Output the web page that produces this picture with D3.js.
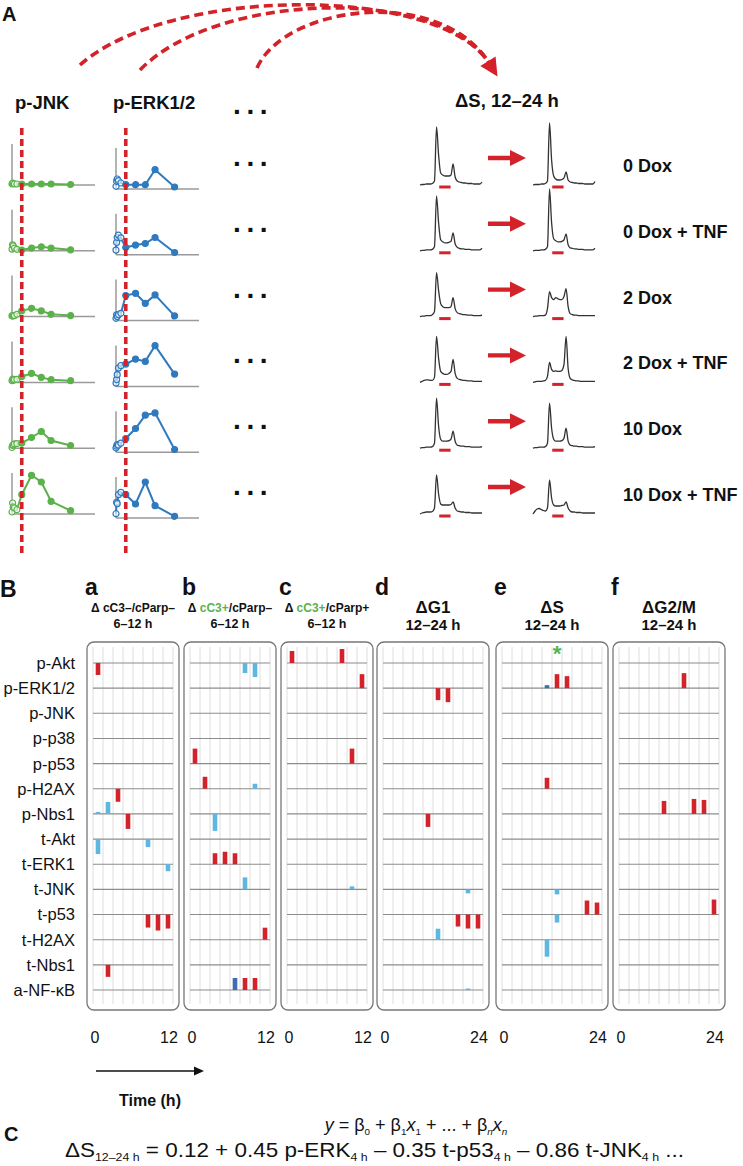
<!DOCTYPE html>
<html><head><meta charset="utf-8">
<script src="https://cdn.jsdelivr.net/npm/d3@7"></script>
<style>
body{margin:0;background:#fff}
svg{display:block}
text{font-family:"Liberation Sans",Arial,Helvetica,sans-serif;fill:#111}
.narrow{font-family:"Liberation Sans Narrow","Arial Narrow","Liberation Sans",Arial,sans-serif}
</style></head>
<body><svg id="fig" width="743" height="1166"></svg>
<script>
// ================= DATA =================
const conditions = ["0 Dox","0 Dox + TNF","2 Dox","2 Dox + TNF","10 Dox","10 Dox + TNF"];
const times = [0,0.25,0.5,1,2,4,8,12,16,24];           // h
const modelTime = 4;                                     // h (red dashed line)
const signalNames = ["p-JNK","p-ERK1/2"];
// signal level (a.u.) per condition, per time point
const pJNK = [
  [1,2,1.5,1,1,1,1,1,1,0.5],
  [1.7,6,5,2.7,1.5,0.7,2.7,4,2.7,1],
  [0.7,0.7,1,1,2.3,5.7,8.3,5.7,2.3,1],
  [1.7,3.3,2.3,2.7,3,5.7,9,5,2.7,1.7],
  [0.7,2.7,3.3,4.3,4.5,5,10.7,16.7,7.7,2.7],
  [2,11,7,6,4.3,19.3,38.7,32,12.7,3.3]
];
const pERK = [
  [2.7,7.7,10,8.3,6,4.3,4.3,4.3,19.3,2],
  [4.7,12.3,17.3,19.7,17,7.3,9.7,11.3,17.3,2.3],
  [2.3,5.7,4,6,7.3,25,27.3,17.3,25.7,4.7],
  [3.3,6.7,11.7,18.3,20.7,22.3,27.3,25,40.7,12.3],
  [4.3,6,7.7,7,9,13.7,23.7,37,39.3,2.7],
  [4.3,15.7,14.3,23.3,25.7,23.3,14,36,12.3,1.7]
];
// DNA-content histograms (counts per bin), before (12 h) and after (24 h)
const histBefore = [
  [0,0.5,0.5,1,1,1,1.5,4,58,30,12,10,9,9,9,10,21,8,4,3,2.5,2,2,1.5,1.5,1.5,1,1,1,1,3],
  [0,0.5,0.5,1,1,1,1.5,4,55,28,11,9,8,8,8.5,9.5,18,7,3.5,2.5,2,2,1.5,1.5,1.5,1,1,1,1,1,2.5],
  [0,0.5,0.5,1,1,1,2,5,44,26,13,10,9,9,9,10,19,8,4,3,2.5,2,2,1.5,1.5,1.5,1,1,1,1,1.5],
  [0,1,2,2.5,2.5,2,2,5,46,24,11,9,8,8,9,11,23,9,4,3,2.5,2,2,1.5,1.5,1.5,1,1,1,1,1],
  [0,0.5,0.5,1,1,1,1.5,5,50,22,9,7,7,7,7.5,9,17,7,3,2.5,2,2,1.5,1.5,1.5,1,1,1,1,1,1.5],
  [0,1,1.5,2,2,2,2.5,6,39,20,10,9,9,9,9,9.5,12,6,3,2.5,2,2,1.5,1.5,1.5,1,1,1,1,1,1]
];
const histAfter = [
  [0,0.5,0.5,0.5,1,1,1.5,4,62,25,9,6,5,5,5.5,7,13,5,3,2.5,2,2,1.5,1.5,1.5,1,1,1,1,1,3.5],
  [0,0.5,0.5,0.5,1,1,1.5,4,62,28,12,10,9,9,9.5,11,17,6,3,2.5,2,2,1.5,1.5,1.5,1,1,1,1,1,2.5],
  [0,0.5,0.5,1,1,1,1.5,8,25,19,17,19,18,17,17,20,28,10,3,2,1.5,1.5,1,1,1,1,1,1,1,1,1],
  [0,0.5,1,1,1,1.5,2,6,20,13,11,11.5,11,11,12,18,46,14,4,2.5,2,1.5,1.5,1,1,1,1,1,1,1,1],
  [0,0.5,0.5,1,1,1,1.5,5,45,20,9,7,7,7,7.5,10,20,7,3,2.5,2,2,1.5,1.5,1.5,1,1,1,1,1,1.5],
  [0,3,5,5.5,4.5,3.5,3,6,34,16,9,8,8,8,8.5,9,12,6,3,2,2,1.5,1.5,1.5,1,1,1,1,1,1,1]
];
const sGate = [9.3,14.8];   // S-phase gate (bins)

// Panel B
const rowSignals = ["p-Akt","p-ERK1/2","p-JNK","p-p38","p-p53","p-H2AX","p-Nbs1",
                    "t-Akt","t-ERK1","t-JNK","t-p53","t-H2AX","t-Nbs1","a-NF-κB"];
const panelLetters = ["a","b","c","d","e","f"];
const panelSlots = [8,8,8,10,10,10];
const panelEndLabels = ["12","12","12","24","24","24"];
const panelTitles = [
  [["Δ cC3–/cParp–",null]],
  [["Δ ",null],["cC3+","g"],["/cParp–",null]],
  [["Δ ",null],["cC3+","g"],["/cParp+",null]],
  [["ΔG1",null]],
  [["ΔS",null]],
  [["ΔG2/M",null]]
];
const panelSubtitles = ["6–12 h","6–12 h","6–12 h","12–24 h","12–24 h","12–24 h"];
// regression coefficients: [signal, time slot, value, colour class]
const coefA = [["p-Akt",0,-1.2,"r"],["p-H2AX",2,-1.3,"r"],["p-Nbs1",0,0.2,"b"],["p-Nbs1",1,1.2,"b"],
  ["p-Nbs1",3,-1.5,"r"],["t-Akt",0,-1.5,"b"],["t-Akt",5,-0.8,"b"],["t-ERK1",7,-0.7,"b"],
  ["t-p53",5,-1.3,"r"],["t-p53",6,-1.6,"r"],["t-p53",7,-1.4,"r"],["t-Nbs1",1,-1.2,"r"]];
const coefB = [["p-Akt",5,-1.0,"b"],["p-Akt",6,-1.4,"b"],["p-p53",0,1.5,"r"],["p-H2AX",1,1.2,"r"],
  ["p-H2AX",6,0.5,"b"],["p-Nbs1",2,-1.7,"b"],["t-ERK1",2,1.1,"r"],["t-ERK1",3,1.25,"r"],
  ["t-ERK1",4,1.1,"r"],["t-JNK",5,1.2,"b"],["t-H2AX",7,1.2,"r"],["a-NF-κB",4,1.2,"d"],
  ["a-NF-κB",5,1.2,"r"],["a-NF-κB",6,1.2,"r"]];
const coefC = [["p-Akt",0,1.2,"r"],["p-Akt",5,1.4,"r"],["p-ERK1/2",7,1.4,"r"],["p-p53",6,1.5,"r"],
  ["t-JNK",6,0.3,"b"]];
const coefD = [["p-ERK1/2",5,-1.2,"r"],["p-ERK1/2",6,-1.4,"r"],["p-Nbs1",4,-1.3,"r"],["t-JNK",8,-0.4,"b"],
  ["t-p53",7,-1.2,"r"],["t-p53",8,-1.4,"r"],["t-p53",9,-1.4,"r"],["t-H2AX",5,1.1,"b"],["a-NF-κB",8,0.15,"b"]];
const coefE = [["p-ERK1/2",4,0.3,"d"],["p-ERK1/2",5,1.4,"r"],["p-ERK1/2",6,1.2,"r"],["p-H2AX",4,1.1,"r"],
  ["t-JNK",5,-0.5,"b"],["t-p53",5,-0.8,"b"],["t-p53",8,1.4,"r"],["t-p53",9,1.2,"r"],["t-H2AX",4,-1.7,"b"]];
const coefF = [["p-ERK1/2",6,1.5,"r"],["p-Nbs1",4,1.3,"r"],["p-Nbs1",7,1.5,"r"],["p-Nbs1",8,1.4,"r"],
  ["t-p53",9,1.5,"r"]];
const significant = [["e","p-Akt",5]];   // green asterisk
// Panel C equation
const intercept = 0.12;
const eqTerms = ["p-ERK","t-p53","t-JNK"];
const eqCoefs = [0.45,-0.35,-0.86];

// ================= STYLE / LAYOUT =================
const RED="#d3222a", GREEN="#5cb24a", BLUE="#2f7abf", LBLUE="#5db7e1", DBLUE="#3c6db4";
const barColor = {r:RED,b:LBLUE,d:DBLUE};
const svg = d3.select("#fig");

function bold(sel){return sel.attr("font-weight","bold");}

// ---------- Panel A ----------
bold(svg.append("text").attr("x",2).attr("y",21).attr("font-size",20).text("A"));

// dashed arcs to arrow
const arcStarts = [[80,65,170,-15],[140,70,215,-8],[257,68,285,5]];
const arcEnd = [489,63], c2 = [440,-15];
arcStarts.forEach(a=>{
  const p=d3.path(); p.moveTo(a[0],a[1]); p.bezierCurveTo(a[2],a[3],c2[0],c2[1],arcEnd[0],arcEnd[1]);
  svg.append("path").attr("d",p.toString()).attr("fill","none").attr("stroke",RED)
    .attr("stroke-width",3.6).attr("stroke-dasharray","9,5");
});
{ // arrowhead
  const dx=arcEnd[0]-c2[0], dy=arcEnd[1]-c2[1], L=Math.hypot(dx,dy), ux=dx/L, uy=dy/L;
  const tip=[arcEnd[0]+ux*16, arcEnd[1]+uy*16], bx=arcEnd[0]-ux*2, by=arcEnd[1]-uy*2;
  svg.append("path").attr("d",`M${tip}L${bx-uy*9},${by+ux*9}L${bx+uy*9},${by-ux*9}Z`).attr("fill",RED);
}

bold(svg.append("text").attr("x",15).attr("y",109).attr("font-size",18.5).text(signalNames[0]));
bold(svg.append("text").attr("x",113).attr("y",109).attr("font-size",18.5).text(signalNames[1]));
bold(svg.append("text").attr("x",455).attr("y",107).attr("font-size",18.5).text("ΔS, 12–24 h"));

const rowBase = d3.scaleLinear().domain([0,5]).range([185,514]);
const xT = d3.scaleLinear().domain([0,34]).range([0,83]);
const yS = d3.scaleLinear().domain([0,41]).range([0,-41]);
const chartDefs = [{data:pJNK,x0:12,dy:0,color:GREEN},{data:pERK,x0:116,dy:4,color:BLUE}];

conditions.forEach((cond,i)=>{
  const yb = rowBase(i);
  chartDefs.forEach(cd=>{
    const g = svg.append("g").attr("transform",`translate(${cd.x0},${yb+cd.dy})`);
    g.append("line").attr("x1",0).attr("x2",0).attr("y1",0).attr("y2",yS(41)).attr("stroke","#9a9a9a").attr("stroke-width",1.5);
    g.append("line").attr("x1",0).attr("x2",xT(34)).attr("y1",0).attr("y2",0).attr("stroke","#9a9a9a").attr("stroke-width",1.5);
    const pts = times.map((t,k)=>[t,cd.data[i][k]]);
    g.append("path").attr("d",d3.line().x(d=>xT(d[0])).y(d=>yS(d[1]))(pts))
      .attr("fill","none").attr("stroke",cd.color).attr("stroke-width",2);
    g.selectAll("circle").data(pts).join("circle").attr("cx",d=>xT(d[0])).attr("cy",d=>yS(d[1]))
      .attr("r",3).attr("fill",d=>d[0]<modelTime?"#fff":cd.color).attr("fill-opacity",d=>d[0]<modelTime?0.6:1)
      .attr("stroke",cd.color).attr("stroke-width",1.2);
  });
  // ellipsis
  bold(svg.append("text").attr("x",233).attr("y",yb-19).attr("font-size",28).attr("letter-spacing",5.6).text("..."));
  // histograms
  [[histBefore,420],[histAfter,533]].forEach(([H,hx])=>{
    const hxS = d3.scaleLinear().domain([0,30]).range([hx,hx+62]);
    const hyS = d3.scaleLinear().domain([0,62]).range([yb,yb-62]);
    svg.append("path").attr("d",d3.line().curve(d3.curveMonotoneX).x((d,k)=>hxS(k)).y(d=>hyS(d))(H[i]))
      .attr("fill","none").attr("stroke","#333").attr("stroke-width",1.3);
    svg.append("line").attr("x1",hxS(sGate[0])).attr("x2",hxS(sGate[1])).attr("y1",yb+2).attr("y2",yb+2)
      .attr("stroke",RED).attr("stroke-width",3);
  });
  // arrow
  const ay = yb-27;
  svg.append("path").attr("d",`M488,${ay-2.2}L510,${ay-2.2}L510,${ay-8}L526,${ay}L510,${ay+8}L510,${ay+2.2}L488,${ay+2.2}Z`).attr("fill",RED);
  bold(svg.append("text").attr("x",623).attr("y",yb-13).attr("font-size",18).text(cond));
});
bold(svg.append("text").attr("x",233).attr("y",114).attr("font-size",28).attr("letter-spacing",5.6).text("..."));
// model time dashed verticals
chartDefs.forEach(cd=>{
  svg.append("line").attr("x1",cd.x0+xT(modelTime)).attr("x2",cd.x0+xT(modelTime)).attr("y1",128).attr("y2",556)
    .attr("stroke",RED).attr("stroke-width",3.6).attr("stroke-dasharray","7,4");
});

// ---------- Panel B ----------
bold(svg.append("text").attr("x",0).attr("y",597).attr("font-size",23).text("B"));
const rowY = d3.scalePoint().domain(rowSignals).range([663,990]);
svg.selectAll("text.rl").data(rowSignals).join("text").attr("class","rl")
  .attr("x",75).attr("y",d=>rowY(d)).attr("dy","0.36em").attr("text-anchor","end")
  .attr("font-size",16.5).text(d=>d);

const panelX0 = [93,190,287,383,502,619];
const coefs = [coefA,coefB,coefC,coefD,coefE,coefF];
const yB = d3.scaleLinear().domain([-2,2]).range([20,-20]);
panelLetters.forEach((L,pi)=>{
  const n = panelSlots[pi], x0 = panelX0[pi];
  const xb = d3.scaleBand().domain(d3.range(n)).range([x0,x0+n*10]);
  const cx = x0+n*5;
  svg.append("rect").attr("x",x0-6).attr("y",642).attr("width",n*10+12).attr("height",368)
    .attr("rx",7).attr("fill","#fff").attr("stroke","#777").attr("stroke-width",1.3);
  d3.range(n+1).forEach(k=>{
    svg.append("line").attr("x1",x0+k*10).attr("x2",x0+k*10).attr("y1",647).attr("y2",1004)
      .attr("stroke","#dedede").attr("stroke-width",1);
  });
  rowSignals.forEach(s=>{
    svg.append("line").attr("x1",x0).attr("x2",x0+n*10).attr("y1",rowY(s)).attr("y2",rowY(s))
      .attr("stroke","#8c8c8c").attr("stroke-width",1.1);
  });
  svg.selectAll(null).data(coefs[pi]).join("rect")
    .attr("x",d=>xb(d[1])+xb.bandwidth()/2-2.3).attr("width",4.6)
    .attr("y",d=>rowY(d[0])+Math.min(0,yB(d[2]))).attr("height",d=>Math.abs(yB(d[2])))
    .attr("fill",d=>barColor[d[3]]);
  bold(svg.append("text").attr("x",x0-8).attr("y",595).attr("font-size",23).text(L));
  const big = pi>=3;
  const t = bold(svg.append("text").attr("x",cx).attr("y",big?613:612).attr("text-anchor","middle")
    .attr("font-size",big?17:12));
  panelTitles[pi].forEach(seg=>{
    t.append("tspan").text(seg[0]).style("fill",seg[1]==="g"?GREEN:"#111");
  });
  bold(svg.append("text").attr("x",cx).attr("y",big?630:628).attr("text-anchor","middle")
    .attr("font-size",big?15:12.5).text(panelSubtitles[pi]));
  svg.append("text").attr("x",x0+2).attr("y",1043).attr("text-anchor","middle").attr("font-size",16).text("0");
  svg.append("text").attr("x",x0+n*10-4).attr("y",1043).attr("text-anchor","middle").attr("font-size",16).text(panelEndLabels[pi]);
});
significant.forEach(([p,s,k])=>{
  const pi = panelLetters.indexOf(p), x0=panelX0[pi];
  const xb = d3.scaleBand().domain(d3.range(panelSlots[pi])).range([x0,x0+panelSlots[pi]*10]);
  bold(svg.append("text").attr("x",xb(k)+5).attr("y",rowY(s)-2).attr("text-anchor","middle")
    .attr("font-size",22).style("fill",GREEN).text("*"));
});
// time arrow
svg.append("line").attr("x1",96).attr("x2",196).attr("y1",1071).attr("y2",1071).attr("stroke","#111").attr("stroke-width",1.6);
svg.append("path").attr("d","M204,1071L194,1066.5L194,1075.5Z").attr("fill","#111");
bold(svg.append("text").attr("x",150).attr("y",1106).attr("text-anchor","middle").attr("font-size",16).text("Time (h)"));

// ---------- Panel C ----------
bold(svg.append("text").attr("x",4).attr("y",1141).attr("font-size",20).text("C"));
// segments: [text, kind] kind: n normal, i italic, s subscript, si italic subscript
function eqText(t, segs, fs){
  let shifted = false;
  segs.forEach(([txt,kind])=>{
    const sp = t.append("tspan").text(txt);
    const isSub = kind==="s"||kind==="si";
    if (isSub && !shifted){ sp.attr("dy",fs*0.2); shifted=true; }
    if (!isSub && shifted){ sp.attr("dy",-fs*0.2); shifted=false; }
    if (isSub) sp.attr("font-size",fs*0.55);
    if (kind==="i"||kind==="si") sp.attr("font-style","italic");
  });
}
{
  const fs=18;
  const t = svg.append("text").attr("class","narrow").attr("x",416).attr("y",1131).attr("font-size",fs).attr("text-anchor","middle");
  eqText(t,[["y","i"],[" = β","n"],["0","s"],[" + β","n"],["1","s"],["x","i"],["1","s"],
            [" + ... + β","n"],["n","si"],["x","i"],["n","si"]],fs);
}
{
  const fs=21;
  const t = svg.append("text").attr("class","narrow").attr("x",65).attr("y",1157).attr("font-size",fs);
  const segs = [["ΔS","n"],["12–24 h","s"],[" = "+intercept.toFixed(2),"n"]];
  eqTerms.forEach((nm,k)=>{
    const c=eqCoefs[k];
    segs.push([(c<0?" – ":" + ")+Math.abs(c).toFixed(2)+" "+nm,"n"]);
    segs.push(["4 h","s"]);
  });
  segs.push([" ...","n"]);
  eqText(t,segs,fs);
  t.attr("textLength",619).attr("lengthAdjust","spacingAndGlyphs");
}
</script></body></html>
